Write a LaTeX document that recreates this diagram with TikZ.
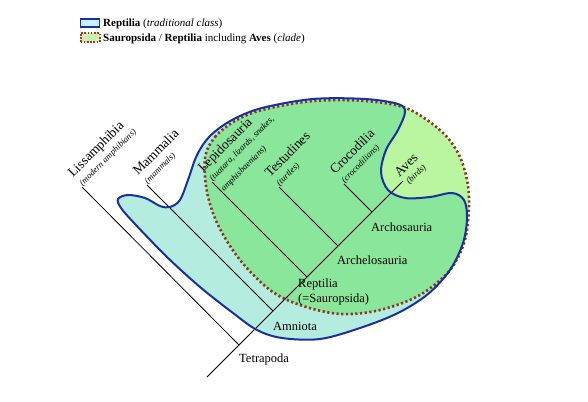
\documentclass[tikz,border=0pt]{standalone}
\usepackage{fontspec}
\setmainfont{Liberation Serif}
\usetikzlibrary{calc}
\definecolor{cyanfill}{HTML}{B4EDE0}
\definecolor{midgreen}{HTML}{8AE69A}
\definecolor{avesgreen}{HTML}{BAF5A0}
\definecolor{navy}{HTML}{1A2FA0}
\definecolor{dotred}{HTML}{8E3626}
\definecolor{legcyan}{HTML}{C8F2FA}
\definecolor{leggreen}{HTML}{C4F5B0}
\definecolor{legred}{HTML}{C02A1E}
\tikzset{
  branch/.style={black, line width=0.8pt},
  nm/.style={font=\fontsize{13.5}{15}\selectfont, inner sep=0pt, rotate=45, anchor=base west},
  sub/.style={font=\fontsize{8.8}{10}\selectfont\itshape, inner sep=0pt, rotate=45, anchor=base west},
  clade/.style={font=\fontsize{12.5}{15}\selectfont, inner sep=0pt, anchor=base west, align=left},
  bluebord/.style={navy, line width=2pt},
  dotbord/.style={dotred, line width=2.6pt, dash pattern=on 2.2pt off 2.5pt},
  legtext/.style={font=\fontsize{11}{13}\selectfont, inner sep=0pt, anchor=base west}
}
\def\bluepath{plot[smooth cycle, tension=0.55] coordinates {
 (118,199) (128,195) (145,198) (160,206) (170,207) (180,200) (188,180) (197,155)
 (210,136) (232,120) (262,108) (313,99) (365,99) (398,104) (405,112) (398,130)
 (386,150) (381,172) (388,190) (405,198) (430,197) (452,193) (464,200) (467,218)
 (463,243) (450,270) (428,294) (398,313) (360,328) (320,339) (282,338) (257,330)
 (233,313) (200,287) (167,257) (135,224) (121,208)}}
\def\dotpath{plot[smooth cycle, tension=0.55] coordinates {
 (205,158) (215,137) (235,121) (262,110) (313,101) (365,101) (403,107) (427,120)
 (447,137) (460,157) (467,180) (469,205) (465,240) (450,270) (420,295) (380,310)
 (340,314) (300,305) (270,290) (240,260) (218,225) (207,192)}}
\begin{document}
\begin{tikzpicture}[x=1pt,y=-1pt]
\useasboundingbox (0,0) rectangle (588,401);
% legend
\node[draw=navy, line width=1.6pt, fill=legcyan, minimum width=19pt, minimum height=8pt, inner sep=0pt] (lb1) at (90,23) {};
\node[legtext] (lt1) at (103,27) {\textbf{Reptilia} (\textit{traditional class})};
\node[draw=legred, line width=2pt, dash pattern=on 1.6pt off 1.6pt, fill=leggreen, minimum width=19pt, minimum height=9pt, inner sep=0pt] (lb2) at (90,37.5) {};
\node[legtext] (lt2) at (103,41.5) {\textbf{Sauropsida} / \textbf{Reptilia} including \textbf{Aves} (\textit{clade})};
% fills
\fill[cyanfill] \bluepath;
\fill[avesgreen] \dotpath;
\begin{scope}
  \clip \bluepath;
  \fill[midgreen] \dotpath;
\end{scope}
% tree
\coordinate (root) at (207,377);
\coordinate (tetra) at (239,345);
\coordinate (amnio) at (273,311);
\coordinate (rept) at (307,277);
\coordinate (arche) at (338,246);
\coordinate (archo) at (372,212);
\coordinate (tAves) at (403,181);
\coordinate (tLiss) at (82,187);
\coordinate (tMamm) at (147,185);
\coordinate (tLepi) at (212,182);
\coordinate (tTest) at (279,187);
\coordinate (tCroc) at (344,184);
\draw[branch] (root) -- (tetra) -- (amnio) -- (rept) -- (arche) -- (archo) -- (tAves);
\draw[branch] (tetra) -- (tLiss);
\draw[branch] (amnio) -- (tMamm);
\draw[branch] (rept) -- (tLepi);
\draw[branch] (arche) -- (tTest);
\draw[branch] (archo) -- (tCroc);
% borders
\draw[dotbord] \dotpath;
\draw[bluebord] \bluepath;
% tip labels
\node[nm] (nLiss) at ($(tLiss)+(-9,-9)$) {Lissamphibia};
\node[sub] (sLiss) at ($(tLiss)+(0.7,-0.7)$) {(modern amphibians)};
\node[nm] (nMamm) at ($(tMamm)+(-9,-9)$) {Mammalia};
\node[sub] (sMamm) at ($(tMamm)+(0.7,-0.7)$) {(mammals)};
\node[nm] (nLepi) at ($(tLepi)+(-9,-9)$) {Lepidosauria};
\node[sub] (sLepi) at ($(tLepi)+(0.7,-0.7)$) {(tuatara, lizards, snakes,};
\node[sub] (sLepi2) at ($(tLepi)+(12,10)$) {amphisbaenians)};
\node[nm] (nTest) at ($(tTest)+(-9,-9)$) {Testudines};
\node[sub] (sTest) at ($(tTest)+(0.7,-0.7)$) {(turtles)};
\node[nm] (nCroc) at ($(tCroc)+(-9,-9)$) {Crocodilia};
\node[sub] (sCroc) at ($(tCroc)+(0.7,-0.7)$) {(crocodilians)};
\node[nm] (nAves) at ($(tAves)+(-3.5,-3)$) {Aves};
\node[sub] (sAves) at ($(tAves)+(6.5,4)$) {(birds)};
% clade labels
\node[clade] (lTetra) at (239,362) {Tetrapoda};
\node[clade] (lAmnio) at (273,330) {Amniota};
\node[clade] (lRept) at (298,302) {Reptilia\\(=Sauropsida)};
\node[clade] (lArche) at (337,264) {Archelosauria};
\node[clade] (lArcho) at (371,231) {Archosauria};
\end{tikzpicture}
\end{document}
